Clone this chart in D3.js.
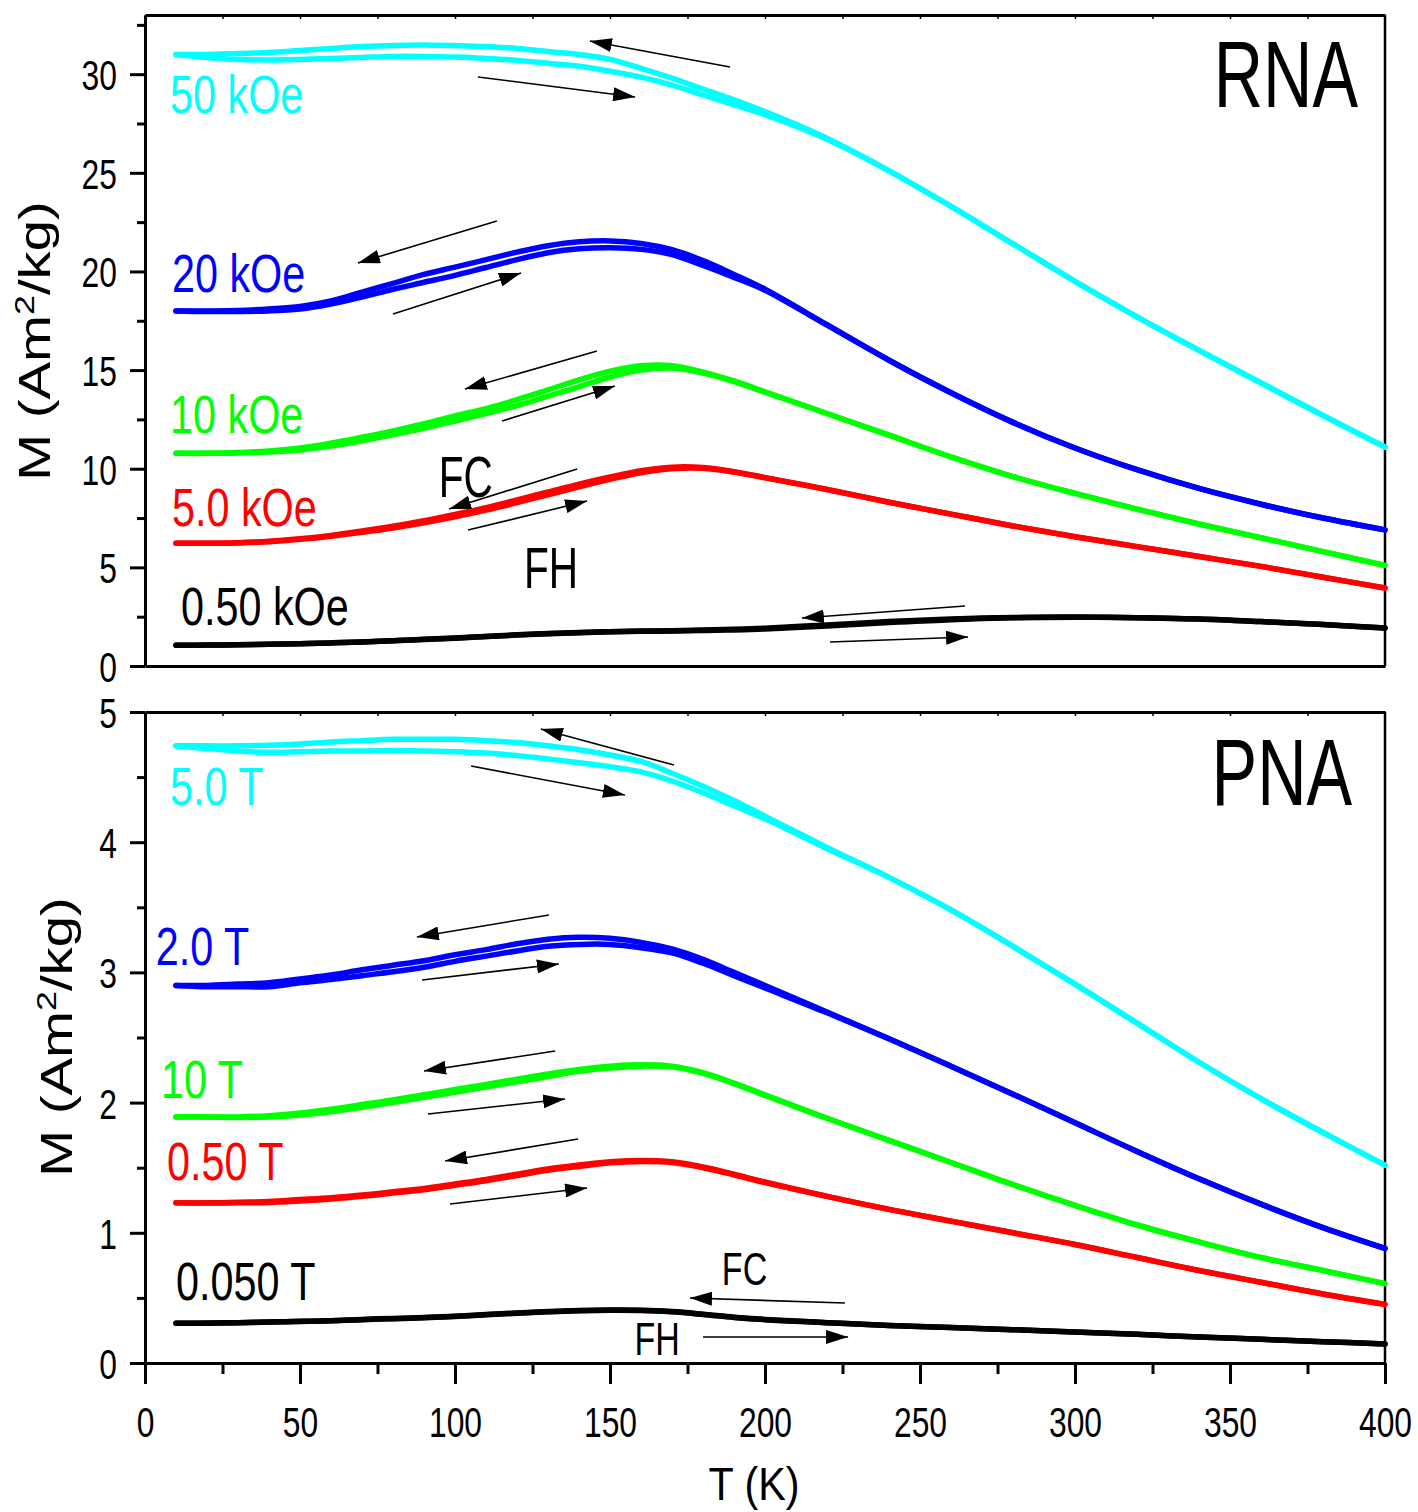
<!DOCTYPE html>
<html>
<head>
<meta charset="utf-8">
<script src="https://cdn.jsdelivr.net/npm/d3@7"></script>
<style>
  body { margin: 0; background: #fff; }
  text { font-family: "Liberation Sans", Arial, sans-serif; }
</style>
</head>
<body>
<div id="chart"></div>
<script>
// temperatures (K) shared by every curve
var temps = [10,20,30,40,50,60,70,80,90,100,110,120,130,140,150,160,170,180,190,200,
             220,240,260,280,300,320,340,360,380,400];

// RNA panel, M in Am2/kg (FC = field cooling, FH = field heating)
var rna50FC = [31.0,31.0,31.05,31.1,31.2,31.3,31.4,31.46,31.48,31.45,31.4,31.3,31.15,31.0,30.75,30.3,29.8,29.25,28.7,28.1,
               26.75,25.1,23.3,21.4,19.5,17.7,16.0,14.35,12.7,11.1];
var rna50FH = [31.0,30.85,30.75,30.72,30.75,30.8,30.85,30.9,30.9,30.87,30.8,30.7,30.55,30.4,30.15,29.85,29.45,28.95,28.45,27.95,
               26.7,25.1,23.3,21.4,19.5,17.7,16.0,14.35,12.7,11.1];
var rna20FC = [18.0,18.0,18.02,18.1,18.22,18.5,18.95,19.4,19.85,20.22,20.6,20.98,21.3,21.5,21.55,21.42,21.1,20.55,19.85,19.1,
               17.3,15.5,13.85,12.35,11.05,9.95,9.0,8.2,7.5,6.9];
var rna20FH = [18.0,17.97,17.97,18.0,18.1,18.35,18.7,19.1,19.45,19.8,20.2,20.6,20.95,21.15,21.2,21.12,20.85,20.3,19.7,19.05,
               17.28,15.5,13.85,12.35,11.05,9.95,9.0,8.2,7.5,6.9];
var rna10FC = [10.78,10.78,10.82,10.9,11.05,11.3,11.6,11.92,12.28,12.68,13.05,13.5,14.0,14.5,14.95,15.22,15.22,14.9,14.45,13.9,
               12.8,11.7,10.6,9.6,8.75,7.95,7.2,6.5,5.8,5.1];
var rna10FH = [10.78,10.78,10.8,10.85,10.95,11.15,11.42,11.72,12.05,12.42,12.8,13.2,13.68,14.15,14.65,15.0,15.1,14.85,14.42,13.88,
               12.8,11.7,10.6,9.6,8.75,7.95,7.2,6.5,5.8,5.1];
var rna5FC = [6.22,6.22,6.25,6.32,6.45,6.62,6.84,7.08,7.36,7.68,8.03,8.42,8.82,9.22,9.58,9.9,10.08,10.06,9.85,9.55,
              8.95,8.3,7.7,7.1,6.55,6.05,5.55,5.05,4.5,3.95];
var rna5FH = [6.22,6.22,6.24,6.3,6.42,6.58,6.78,7.0,7.26,7.56,7.9,8.28,8.68,9.08,9.46,9.8,10.0,10.02,9.83,9.54,
              8.95,8.3,7.7,7.1,6.55,6.05,5.55,5.05,4.5,3.95];
var rna05FC = [1.05,1.06,1.08,1.1,1.13,1.17,1.22,1.28,1.35,1.42,1.5,1.58,1.65,1.7,1.74,1.77,1.79,1.82,1.86,1.92,
               2.08,2.25,2.38,2.46,2.48,2.45,2.38,2.25,2.1,1.93];
var rna05FH = [1.05,1.06,1.08,1.1,1.13,1.17,1.22,1.28,1.34,1.41,1.49,1.57,1.64,1.69,1.73,1.76,1.78,1.8,1.83,1.88,
               2.03,2.2,2.35,2.44,2.47,2.45,2.38,2.25,2.1,1.93];

// PNA panel
var pna5FC = [4.74,4.74,4.74,4.745,4.755,4.77,4.78,4.79,4.79,4.79,4.78,4.765,4.74,4.71,4.67,4.62,4.53,4.43,4.32,4.2,
              3.96,3.73,3.48,3.2,2.91,2.61,2.31,2.03,1.77,1.52];
var pna5FH = [4.74,4.72,4.70,4.69,4.695,4.70,4.70,4.705,4.70,4.695,4.685,4.665,4.64,4.61,4.58,4.54,4.47,4.38,4.28,4.18,
              3.95,3.73,3.48,3.2,2.91,2.61,2.31,2.03,1.77,1.52];
var pna2FC = [2.90,2.90,2.91,2.92,2.95,2.98,3.02,3.055,3.09,3.135,3.175,3.22,3.255,3.27,3.262,3.23,3.18,3.1,3.0,2.9,
              2.695,2.49,2.28,2.065,1.845,1.625,1.415,1.22,1.04,0.88];
var pna2FH = [2.90,2.89,2.89,2.89,2.92,2.945,2.975,3.005,3.04,3.085,3.125,3.165,3.2,3.215,3.215,3.19,3.15,3.07,2.975,2.88,
              2.69,2.49,2.28,2.065,1.845,1.625,1.415,1.22,1.04,0.88];
var pna10FC = [1.89,1.89,1.89,1.9,1.92,1.95,1.985,2.02,2.06,2.1,2.14,2.18,2.22,2.255,2.28,2.29,2.28,2.23,2.15,2.06,
               1.88,1.71,1.54,1.37,1.21,1.06,0.93,0.81,0.71,0.61];
var pna10FH = [1.89,1.89,1.885,1.89,1.905,1.93,1.965,2.0,2.04,2.08,2.12,2.16,2.2,2.24,2.265,2.28,2.275,2.225,2.145,2.055,
               1.88,1.71,1.54,1.37,1.21,1.06,0.93,0.81,0.71,0.61];
var pna05FC = [1.23,1.23,1.235,1.24,1.255,1.27,1.29,1.315,1.34,1.375,1.41,1.45,1.49,1.52,1.545,1.555,1.545,1.505,1.45,1.39,
               1.28,1.18,1.09,1.0,0.91,0.81,0.71,0.62,0.53,0.45];
var pna05FH = [1.23,1.228,1.23,1.233,1.245,1.26,1.28,1.305,1.33,1.365,1.4,1.44,1.48,1.51,1.537,1.548,1.54,1.5,1.445,1.385,
               1.28,1.18,1.09,1.0,0.91,0.81,0.71,0.62,0.53,0.45];
var pna005FC = [0.305,0.307,0.31,0.315,0.32,0.325,0.335,0.342,0.35,0.36,0.372,0.384,0.395,0.403,0.407,0.405,0.395,0.375,0.352,0.335,
                0.31,0.288,0.272,0.256,0.238,0.22,0.2,0.182,0.164,0.146];
var pna005FH = [0.305,0.306,0.309,0.314,0.319,0.324,0.333,0.34,0.348,0.358,0.37,0.382,0.393,0.401,0.405,0.403,0.393,0.373,0.35,0.333,
                0.31,0.288,0.272,0.256,0.238,0.22,0.2,0.182,0.164,0.146];

var fieldColors = ["#00ffff", "#0000ff", "#00ff00", "#ff0000", "#000000"];
var rnaFields = ["50 kOe", "20 kOe", "10 kOe", "5.0 kOe", "0.50 kOe"];
var pnaFields = ["5.0 T", "2.0 T", "10 T", "0.50 T", "0.050 T"];
var rnaCurves = [[rna50FC, rna50FH], [rna20FC, rna20FH], [rna10FC, rna10FH], [rna5FC, rna5FH], [rna05FC, rna05FH]];
var pnaCurves = [[pna5FC, pna5FH], [pna2FC, pna2FH], [pna10FC, pna10FH], [pna05FC, pna05FH], [pna005FC, pna005FH]];

// annotation anchors in data units [T, M]
var rnaLabelAt = [[8.1, 28.03], [8.7, 18.96], [8.1, 11.81], [8.7, 7.1], [11.6, 2.08]];
var pnaLabelAt = [[8.1, 4.286], [3.5, 3.057], [5.2, 2.035], [7.1, 1.406], [10, 0.484]];
// arrows [T1, M1, T2, M2], head at the second point
var rnaArrows = [
  [188.7, 30.36, 143.5, 31.68], [107.4, 29.86, 158.1, 28.84],
  [113.5, 22.56, 68.7, 20.43], [80.0, 17.84, 121.3, 19.92],
  [145.8, 15.97, 103.2, 14.04], [115.2, 12.42, 151.6, 14.19],
  [139.4, 9.99, 98.1, 7.96], [104.2, 6.89, 142.6, 8.36],
  [264.5, 3.04, 211.9, 2.43], [221.0, 1.22, 265.5, 1.47]
];
var pnaArrows = [
  [170.6, 4.593, 127.7, 4.869], [105.2, 4.585, 154.8, 4.363],
  [130.3, 3.441, 87.7, 3.272], [89.4, 2.942, 133.5, 3.065],
  [132.3, 2.396, 90.0, 2.243], [91.3, 1.912, 135.5, 2.028],
  [139.7, 1.720, 96.8, 1.551], [98.4, 1.221, 142.6, 1.344],
  [225.8, 0.461, 175.8, 0.499], [180, 0.2, 226.8, 0.2]
];

var W = 1418, H = 1512;
var svg = d3.select("#chart").append("svg")
  .attr("width", W)
  .attr("height", H);

svg.append("defs").append("marker")
  .attr("id", "head")
  .attr("viewBox", "0 0 22 14")
  .attr("refX", 22).attr("refY", 7)
  .attr("markerWidth", 22).attr("markerHeight", 14)
  .attr("markerUnits", "userSpaceOnUse")
  .attr("orient", "auto")
  .append("path")
  .attr("d", "M0,0L22,7L0,14Z")
  .attr("fill", "#000");

var x = d3.scaleLinear().domain([0, 400]).range([145, 1385]);
var yTop = d3.scaleLinear().domain([0, 33]).range([666, 15]);
var yBot = d3.scaleLinear().domain([0, 5]).range([1363, 712]);

// condensed-looking text
function label(g, px, py, str, size, sx, color, anchor) {
  return g.append("text")
    .attr("transform", "translate(" + px + "," + py + ") scale(" + sx + ",1)")
    .attr("font-size", size)
    .attr("fill", color || "#000")
    .attr("text-anchor", anchor || "start")
    .text(str);
}

function styleAxis(sel) {
  sel.select(".domain").attr("stroke-width", 3);
  sel.selectAll(".tick line").attr("stroke-width", 3);
}

function drawPanel(y, curves, names, labelAt, arrows, major, minor, title, titleAt, fcAt, fhAt, fcSize) {
  var g = svg.append("g");
  var right = x.range()[1], top = y.range()[1], bottom = y.range()[0];

  // frame: top and right
  var topAx = g.append("g").attr("transform", "translate(0," + top + ")")
    .call(d3.axisTop(x).tickValues(d3.range(25, 400, 25)).tickSize(-4).tickSizeOuter(0).tickFormat(""));
  styleAxis(topAx);
  topAx.selectAll(".tick line").attr("stroke-width", 1.5);
  g.append("line")
    .attr("x1", right).attr("x2", right)
    .attr("y1", top).attr("y2", bottom)
    .attr("stroke", "#000").attr("stroke-width", 2.5);

  // left axis, major + minor
  var yAx = g.append("g").attr("transform", "translate(" + x.range()[0] + ",0)")
    .call(d3.axisLeft(y).tickValues(major).tickSize(15).tickSizeOuter(0).tickFormat(d3.format("d")));
  styleAxis(yAx);
  yAx.selectAll("text")
    .attr("font-size", 43)
    .attr("font-family", "Liberation Sans, Arial, sans-serif")
    .attr("x", -28 / 0.74)
    .attr("dy", "0.36em")
    .attr("transform", "scale(0.74,1)");
  var yMin = g.append("g").attr("transform", "translate(" + x.range()[0] + ",0)")
    .call(d3.axisLeft(y).tickValues(minor).tickSize(8).tickSizeOuter(0).tickFormat(""));
  styleAxis(yMin);

  // curves
  var line = d3.line()
    .x(function (d, i) { return x(temps[i]); })
    .y(function (d) { return y(d); })
    .curve(d3.curveCatmullRom);
  curves.forEach(function (pair, k) {
    pair.forEach(function (vals) {
      g.append("path")
        .attr("d", line(vals))
        .attr("fill", "none")
        .attr("stroke", fieldColors[k])
        .attr("stroke-width", 5.5)
        .attr("stroke-linecap", "round");
    });
    label(g, x(labelAt[k][0]), y(labelAt[k][1]), names[k], 53, 0.78, fieldColors[k]);
  });

  // FC / FH arrows
  g.selectAll(".arrow")
    .data(arrows)
    .enter().append("line")
    .attr("class", "arrow")
    .attr("x1", function (d) { return x(d[0]); })
    .attr("y1", function (d) { return y(d[1]); })
    .attr("x2", function (d) { return x(d[2]); })
    .attr("y2", function (d) { return y(d[3]); })
    .attr("stroke", "#000")
    .attr("stroke-width", 1.6)
    .attr("marker-end", "url(#head)");

  label(g, x(fcAt[0]), y(fcAt[1]), "FC", fcSize, fcSize > 50 ? 0.7 : 0.74, "#000", "middle");
  label(g, x(fhAt[0]), y(fhAt[1]), "FH", fcSize, fcSize > 50 ? 0.7 : 0.74, "#000", "middle");
  label(g, x(titleAt[0]), y(titleAt[1]), title, 95, 0.72, "#000", "end");
  return g;
}

var gTop = drawPanel(yTop, rnaCurves, rnaFields, rnaLabelAt, rnaArrows,
  d3.range(0, 31, 5), d3.range(2.5, 33, 5), "RNA", [391.3, 28.34], [103.5, 8.57], [131, 3.95], 58);
var gBot = drawPanel(yBot, pnaCurves, pnaFields, pnaLabelAt, pnaArrows,
  d3.range(0, 6, 1), d3.range(0.5, 5, 1), "PNA", [389.4, 4.286], [193.4, 0.599], [165.2, 0.061], 46);

// x axis between panels (no labels)
var midAx = gTop.append("g").attr("transform", "translate(0," + yTop(0) + ")")
  .call(d3.axisBottom(x).tickValues(d3.range(0, 401, 25)).tickSize(0).tickSizeOuter(0).tickFormat(""));
styleAxis(midAx);

// bottom x axis
var xAx = gBot.append("g").attr("transform", "translate(0," + yBot(0) + ")")
  .call(d3.axisBottom(x).tickValues(d3.range(0, 401, 50)).tickSize(21).tickSizeOuter(0));
styleAxis(xAx);
xAx.selectAll("text")
  .attr("font-size", 43)
  .attr("font-family", "Liberation Sans, Arial, sans-serif")
  .attr("y", 74)
  .attr("dy", 0)
  .attr("transform", "scale(0.74,1)");
var xMin = gBot.append("g").attr("transform", "translate(0," + yBot(0) + ")")
  .call(d3.axisBottom(x).tickValues(d3.range(25, 400, 50)).tickSize(11).tickSizeOuter(0).tickFormat(""));
styleAxis(xMin);

// axis titles
label(svg, 754, 1500, "T (K)", 47, 0.88, "#000", "middle");

function yTitle(px, py) {
  var t = svg.append("text")
    .attr("transform", "translate(" + px + "," + py + ") rotate(-90) scale(1.28,1)")
    .attr("font-size", 44)
    .attr("text-anchor", "middle");
  t.append("tspan").text("M (Am");
  t.append("tspan").attr("font-size", 28).attr("dy", -16).text("2");
  t.append("tspan").attr("dy", 16).text("/kg)");
}
yTitle(50, 341);
yTitle(72, 1037);
</script>
</body>
</html>
